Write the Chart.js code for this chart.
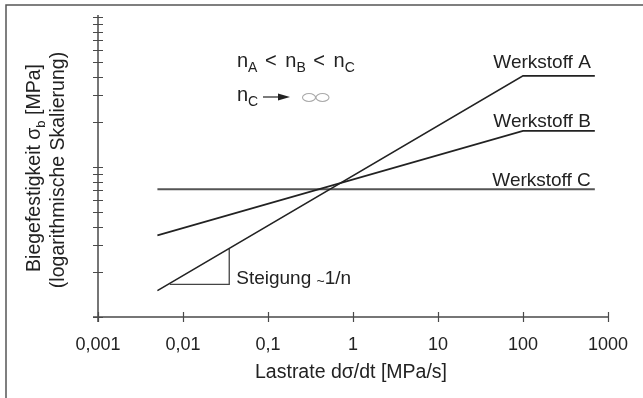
<!DOCTYPE html>
<html>
<head>
<meta charset="utf-8">
<script src="https://cdn.jsdelivr.net/npm/chart.js@4/dist/chart.umd.min.js"></script>
<style>
  html, body { margin: 0; padding: 0; background: #fff; }
  canvas { display: block; }
</style>
</head>
<body>
<canvas id="chart" width="643" height="398"></canvas>
<script>
// Lastrate dσ/dt [MPa/s] per Werkstoff
const rateA = [0.005, 100, 700];
const rateB = [0.005, 100, 700];
const rateC = [0.005, 700];

// Biegefestigkeit (logarithmische Skalierung, relative Werte)
const strengthA = [1.5, 40.5, 40.5];
const strengthB = [3.5, 17.4, 17.4];
const strengthC = [7.1, 7.1];

// Steigungsdreieck an Werkstoff A
const slopeRate = [0.007, 0.035, 0.035];
const slopeStrength = [1.65, 1.65, 2.84];

const xTicks = [0.001, 0.01, 0.1, 1, 10, 100, 1000];
const xTickLabels = ['0,001', '0,01', '0,1', '1', '10', '100', '1000'];
const yTicks = [1, 2, 3, 4, 5, 6, 7, 8, 9, 10, 20, 30, 40, 50, 60, 70, 80, 90, 100];
const seriesNames = ['Werkstoff A', 'Werkstoff B', 'Werkstoff C'];

const FONT = '"Liberation Sans", Arial, sans-serif';
const INK = '#222';
const AXIS = '#4a4a4a';

function toPoints(xs, ys) {
  return xs.map((x, i) => ({ x: x, y: ys[i] }));
}

/**
 * Draw text made of normal and subscript parts
 */
function drawRich(ctx, parts, x, y, size, subSize) {
  let cx = x;
  parts.forEach(p => {
    const fs = p.sub ? subSize : size;
    ctx.font = fs + 'px ' + FONT;
    ctx.fillText(p.t, cx, y + (p.sub ? Math.round(size * 0.26) : 0));
    cx += ctx.measureText(p.t).width + (p.pad || 0);
  });
  return cx;
}

const decorPlugin = {
  id: 'decor',
  beforeDatasetsDraw(chart) {
    const ctx = chart.ctx;
    const xs = chart.scales.x;
    const ys = chart.scales.y;
    const x0 = xs.getPixelForValue(xTicks[0]);
    const y0 = ys.getPixelForValue(yTicks[0]);
    const yTop = ys.getPixelForValue(yTicks[yTicks.length - 1]);
    const xEnd = xs.getPixelForValue(xTicks[xTicks.length - 1]);

    ctx.save();
    // frame (left + top)
    ctx.strokeStyle = '#555';
    ctx.lineWidth = 1.5;
    ctx.beginPath();
    ctx.moveTo(6, 398);
    ctx.lineTo(6, 5);
    ctx.lineTo(643, 5);
    ctx.stroke();

    // axes
    ctx.strokeStyle = AXIS;
    ctx.lineWidth = 1.5;
    ctx.beginPath();
    ctx.moveTo(x0 - 5, y0);
    ctx.lineTo(xEnd, y0);
    ctx.moveTo(x0, y0 + 5);
    ctx.lineTo(x0, yTop - 2);
    ctx.stroke();

    // ticks crossing the axes
    ctx.lineWidth = 1.2;
    ctx.beginPath();
    xTicks.forEach(v => {
      const px = Math.round(xs.getPixelForValue(v)) + 0.5;
      ctx.moveTo(px, y0 - 5);
      ctx.lineTo(px, y0 + 5);
    });
    yTicks.forEach(v => {
      const py = Math.round(ys.getPixelForValue(v)) + 0.5;
      ctx.moveTo(x0 - 5, py);
      ctx.lineTo(x0 + 5, py);
    });
    ctx.stroke();

    // x tick labels
    ctx.fillStyle = INK;
    ctx.font = '18px ' + FONT;
    ctx.textAlign = 'center';
    ctx.textBaseline = 'alphabetic';
    xTicks.forEach((v, i) => {
      ctx.fillText(xTickLabels[i], xs.getPixelForValue(v), y0 + 33);
    });

    // x title
    ctx.font = '19.5px ' + FONT;
    ctx.fillText('Lastrate d\u03C3/dt [MPa/s]', (x0 + xEnd) / 2 - 2, y0 + 61);

    // y title
    ctx.save();
    ctx.translate(40, (y0 + yTop) / 2 + 1);
    ctx.rotate(-Math.PI / 2);
    ctx.textAlign = 'left';
    const l1 = ['Biegefestigkeit \u03C3', 'b', ' [MPa]'];
    ctx.font = '19.5px ' + FONT;
    const w1 = ctx.measureText(l1[0]).width + ctx.measureText(l1[2]).width;
    ctx.font = '13px ' + FONT;
    const wSub = ctx.measureText(l1[1]).width;
    drawRich(ctx, [{ t: l1[0] }, { t: l1[1], sub: true }, { t: l1[2] }], -(w1 + wSub) / 2, 0, 19.5, 13);
    ctx.font = '19.5px ' + FONT;
    ctx.textAlign = 'center';
    ctx.fillText('(logarithmische Skalierung)', -2, 24);
    ctx.restore();
    ctx.restore();
  },
  afterDatasetsDraw(chart) {
    const ctx = chart.ctx;
    const xs = chart.scales.x;
    const ys = chart.scales.y;
    ctx.save();
    ctx.fillStyle = INK;

    // series labels at the end of each line
    const ends = [
      [rateA[rateA.length - 1], strengthA[strengthA.length - 1]],
      [rateB[rateB.length - 1], strengthB[strengthB.length - 1]],
      [rateC[rateC.length - 1], strengthC[strengthC.length - 1]]
    ];
    const lift = [8, 4, 3];
    ctx.font = '19px ' + FONT;
    ctx.textAlign = 'right';
    ctx.textBaseline = 'alphabetic';
    ends.forEach((e, i) => {
      ctx.fillText(seriesNames[i], xs.getPixelForValue(e[0]) - 4, ys.getPixelForValue(e[1]) - lift[i]);
    });

    // n_A < n_B < n_C
    ctx.textAlign = 'left';
    drawRich(ctx, [
      { t: 'n' }, { t: 'A', sub: true, pad: 2 }, { t: '<', pad: 3 }, { t: 'n' }, { t: 'B', sub: true, pad: 2 },
      { t: '<', pad: 3 }, { t: 'n' }, { t: 'C', sub: true }
    ].map(p => p.t === '<' ? Object.assign(p, { t: ' < ' }) : p), 237, 67, 20, 14);

    // n_C -> infinity
    drawRich(ctx, [{ t: 'n' }, { t: 'C', sub: true }], 237, 101, 20, 14);
    ctx.strokeStyle = INK;
    ctx.lineWidth = 1.2;
    ctx.beginPath();
    ctx.moveTo(263, 97);
    ctx.lineTo(281, 97);
    ctx.stroke();
    ctx.beginPath();
    ctx.moveTo(290, 97);
    ctx.lineTo(278, 93.5);
    ctx.lineTo(278, 100.5);
    ctx.closePath();
    ctx.fill();
    ctx.strokeStyle = '#aaa';
    ctx.lineWidth = 1.1;
    ctx.beginPath();
    ctx.ellipse(309, 97.5, 6.5, 4, 0, 0, Math.PI * 2);
    ctx.moveTo(329, 97.5);
    ctx.ellipse(322.5, 97.5, 6.5, 4, 0, 0, Math.PI * 2);
    ctx.stroke();

    // Steigung label next to triangle
    const tx = xs.getPixelForValue(slopeRate[1]) + 7;
    const ty = ys.getPixelForValue(slopeStrength[0]);
    let cx = drawRich(ctx, [{ t: 'Steigung ' }], tx, ty, 19, 13);
    ctx.font = '14px ' + FONT;
    ctx.fillText('~', cx, ty + 2);
    cx += ctx.measureText('~').width;
    ctx.font = '19px ' + FONT;
    ctx.fillText('1/n', cx, ty);
    ctx.restore();
  }
};

const ctx = document.getElementById('chart').getContext('2d');
new Chart(ctx, {
  type: 'scatter',
  data: {
    datasets: [
      { label: seriesNames[0], data: toPoints(rateA, strengthA), borderColor: INK, borderWidth: 1.6 },
      { label: seriesNames[1], data: toPoints(rateB, strengthB), borderColor: INK, borderWidth: 1.6 },
      { label: seriesNames[2], data: toPoints(rateC, strengthC), borderColor: '#555', borderWidth: 2 },
      { label: 'Steigung', data: toPoints(slopeRate, slopeStrength), borderColor: '#444', borderWidth: 1.3 }
    ].map(d => Object.assign(d, { showLine: true, pointRadius: 0, fill: false, tension: 0 }))
  },
  options: {
    responsive: false,
    animation: false,
    devicePixelRatio: 1,
    layout: { padding: { left: 98, right: 35, top: 17, bottom: 81 } },
    plugins: { legend: { display: false }, tooltip: { enabled: false } },
    scales: {
      x: { type: 'logarithmic', min: 0.001, max: 1000, display: false },
      y: { type: 'logarithmic', min: 1, max: 100, display: false }
    }
  },
  plugins: [decorPlugin]
});
</script>
</body>
</html>
